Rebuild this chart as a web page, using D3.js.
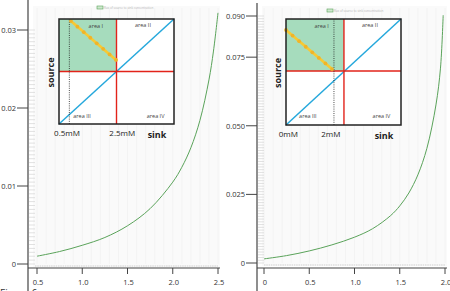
<!DOCTYPE html>
<html>
<head>
<meta charset="utf-8">
<script src="https://cdn.jsdelivr.net/npm/d3@7"></script>
<style>
  html, body { margin: 0; padding: 0; background: #fff; }
  svg { display: block; font-family: "Open Sans", "Liberation Sans", sans-serif; }
</style>
</head>
<body>
<div class="chart"></div>
<script>
// curve data
const leftSink = [0.5, 0.75, 1.0, 1.25, 1.5, 1.75, 2.0, 2.1, 2.2, 2.3, 2.4, 2.45, 2.5]
const leftFlux = [0.0010, 0.0016, 0.0024, 0.0034, 0.0049, 0.0071, 0.0105, 0.0124, 0.0149, 0.0184, 0.0236, 0.0273, 0.0322]
const rightSink = [0, 0.25, 0.5, 0.75, 1.0, 1.2, 1.4, 1.5, 1.6, 1.7, 1.8, 1.9, 1.95, 1.98]
const rightFlux = [0.0015, 0.0027, 0.0044, 0.0066, 0.0094, 0.0125, 0.0173, 0.0208, 0.0255, 0.0321, 0.0418, 0.0576, 0.0710, 0.0903]
// tick labels
const leftXTicks = [0.5, 1.0, 1.5, 2.0, 2.5]
const leftYTicks = [0, 0.01, 0.02, 0.03]
const rightXTicks = [0, 0.5, 1.0, 1.5, 2.0]
const rightYTicks = [0, 0.025, 0.050, 0.075, 0.090]
// inset schematic (unit square coords)
const areaNames = ["area I", "area II", "area III", "area IV"]
const leftInset = { cross: [0.5, 0.5], dotted: 0.09, yellow: [[0.104, 0.98], [0.496, 0.61]], marks: ["0.5mM", "2.5mM"], markAt: [0.07, 0.55] }
const rightInset = { cross: [0.504, 0.51], dotted: 0.417, yellow: [[0, 0.896], [0.40, 0.528]], marks: ["0mM", "2mM"], markAt: [0.02, 0.39] }

let width = 450, height = 291
let svg = d3.select(".chart").append("svg").attr("width", width).attr("height", height)

function drawPanel(p) {
    let x = d3.scaleLinear().domain(p.xDomain).range(p.xRange)
    let y = d3.scaleLinear().domain(p.yDomain).range(p.yRange)
    let g = svg.append("g")
    // faint plot background
    g.append("rect").attr("x", p.axisX + 5).attr("y", 6).attr("width", p.xRange[1] + 2 - p.axisX - 5)
        .attr("height", p.yRange[0] + 3 - 6).attr("fill", "#fafafa")
    g.append("g").selectAll("line").data(x.ticks(20)).enter().append("line")
        .attr("x1", d => x(d)).attr("x2", d => x(d)).attr("y1", 8).attr("y2", p.yRange[0])
        .attr("stroke", "#f1f1f1").attr("stroke-width", 0.8)
    // minor hatch along the y axis
    g.append("g").selectAll("line").data(y.ticks(p.hatch)).enter().append("line")
        .attr("x1", p.axisX + 1).attr("x2", p.axisX + 7).attr("y1", d => y(d)).attr("y2", d => y(d))
        .attr("stroke", "#d4d4d4").attr("stroke-width", 0.7)
    g.append("line").attr("x1", p.axisX + 7).attr("x2", p.xRange[1]).attr("y1", p.yRange[0] + 2).attr("y2", p.yRange[0] + 2)
        .attr("stroke", "#cfcfcf").attr("stroke-width", 1.2).attr("stroke-dasharray", "1.5,0.8")
    // curve
    let line = d3.line().x(d => x(d[0])).y(d => y(d[1])).curve(d3.curveCatmullRom.alpha(0.5))
    g.append("path").datum(d3.zip(p.sink, p.flux)).attr("d", line)
        .attr("fill", "none").attr("stroke", "#5aa35a").attr("stroke-width", 1)
    // axes
    g.append("line").attr("x1", p.axisX).attr("x2", p.axisX).attr("y1", p.axisTop).attr("y2", height)
        .attr("stroke", "#444").attr("stroke-width", 1.2)
    g.append("line").attr("x1", p.axisX).attr("x2", p.xRange[1] + 2).attr("y1", 268).attr("y2", 268)
        .attr("stroke", "#444").attr("stroke-width", 1.2)
    let yt = g.append("g").selectAll("g").data(p.yTicks).enter().append("g")
    yt.append("line").attr("x1", p.axisX - 11).attr("x2", p.axisX).attr("y1", d => y(d)).attr("y2", d => y(d))
        .attr("stroke", "#444").attr("stroke-width", 1)
    yt.append("text").attr("x", p.axisX - 12).attr("y", d => y(d) + 3).attr("text-anchor", "end")
        .attr("font-size", 7.5).attr("fill", "#333").text(d => d === 0 ? "0" : d3.format(p.yFormat)(d))
    let xt = g.append("g").selectAll("g").data(p.xTicks).enter().append("g")
    xt.append("line").attr("x1", d => x(d)).attr("x2", d => x(d)).attr("y1", 268).attr("y2", 274)
        .attr("stroke", "#444").attr("stroke-width", 1)
    xt.append("text").attr("x", d => x(d) + 1).attr("y", 285).attr("text-anchor", "middle")
        .attr("font-size", 7.5).attr("fill", "#333").text(d => p.xFormat(d))
    // legend
    g.append("rect").attr("x", p.legend[0]).attr("y", p.legend[1]).attr("width", 6).attr("height", 3)
        .attr("fill", "#cfe8cf").attr("stroke", "#5aa35a").attr("stroke-width", 0.6)
    g.append("text").attr("x", p.legend[0] + 7).attr("y", p.legend[1] + 2.8).attr("font-size", 3)
        .attr("fill", "#b5b5b5").text("flux of source to sink concentration")
    drawInset(p.box, p.inset, p.labelPos)
}

function drawInset(b, d, lp) {
    let u = d3.scaleLinear().domain([0, 1]).range([b[0], b[1]])
    let v = d3.scaleLinear().domain([0, 1]).range([b[3], b[2]])
    let g = svg.append("g")
    g.append("rect").attr("x", b[0]).attr("y", b[2]).attr("width", b[1] - b[0]).attr("height", b[3] - b[2]).attr("fill", "#fff")
    g.append("rect").attr("x", u(0)).attr("y", v(1)).attr("width", u(d.cross[0]) - u(0)).attr("height", v(d.cross[1]) - v(1))
        .attr("fill", "#a6dcbd")
    g.append("line").attr("x1", u(0)).attr("y1", v(0)).attr("x2", u(1)).attr("y2", v(1))
        .attr("stroke", "#25a8dc").attr("stroke-width", 1.5)
    g.append("line").attr("x1", u(d.cross[0])).attr("x2", u(d.cross[0])).attr("y1", v(0)).attr("y2", v(1))
        .attr("stroke", "#e2231a").attr("stroke-width", 1.4)
    g.append("line").attr("x1", u(0)).attr("x2", u(1)).attr("y1", v(d.cross[1])).attr("y2", v(d.cross[1]))
        .attr("stroke", "#e2231a").attr("stroke-width", 1.4)
    g.append("line").attr("x1", u(d.dotted)).attr("x2", u(d.dotted)).attr("y1", v(0)).attr("y2", v(1))
        .attr("stroke", "#222").attr("stroke-width", 0.8).attr("stroke-dasharray", "1,1.2")
    let y0 = d.yellow[0], y1 = d.yellow[1]
    g.append("line").attr("x1", u(y0[0])).attr("y1", v(y0[1])).attr("x2", u(y1[0])).attr("y2", v(y1[1]))
        .attr("stroke", "#f7c934").attr("stroke-width", 2.6)
    g.append("g").selectAll("circle").data(d3.range(0, 1.001, 1 / 7)).enter().append("circle")
        .attr("cx", t => u(y0[0] + (y1[0] - y0[0]) * t)).attr("cy", t => v(y0[1] + (y1[1] - y0[1]) * t))
        .attr("r", 1.9).attr("fill", "#f0b429")
    g.append("rect").attr("x", b[0]).attr("y", b[2]).attr("width", b[1] - b[0]).attr("height", b[3] - b[2])
        .attr("fill", "none").attr("stroke", "#222").attr("stroke-width", 1.5)
    g.append("g").selectAll("text").data(areaNames).enter().append("text")
        .attr("x", (t, i) => u(lp[i][0])).attr("y", (t, i) => v(lp[i][1]) + 2).attr("text-anchor", "middle")
        .attr("font-size", 5.5).attr("fill", "#444").text(t => t)
    g.append("text").attr("transform", `translate(${b[0] - 5},${(b[2] + b[3]) / 2 + 1}) rotate(-90)`)
        .attr("text-anchor", "middle").attr("font-size", 9).attr("font-weight", "bold").attr("fill", "#222").text("source")
    g.append("text").attr("x", u(1) - 17).attr("y", b[3] + 14).attr("text-anchor", "middle")
        .attr("font-size", 9).attr("font-weight", "bold").attr("fill", "#222").text("sink")
    g.append("g").selectAll("text").data(d.marks).enter().append("text")
        .attr("x", (t, i) => u(d.markAt[i])).attr("y", b[3] + 12).attr("text-anchor", "middle")
        .attr("font-size", 8).attr("fill", "#222").text(t => t)
}

drawPanel({
    sink: leftSink, flux: leftFlux, xTicks: leftXTicks, yTicks: leftYTicks,
    xDomain: [0.5, 2.5], xRange: [37, 218], yDomain: [0, 0.03], yRange: [264, 30],
    axisX: 28, axisTop: 0, hatch: 80, yFormat: ".2f", xFormat: d3.format(".1f"),
    legend: [97, 6], box: [59, 174, 19, 124], inset: leftInset,
    labelPos: [[0.32, 0.93], [0.73, 0.94], [0.2, 0.076], [0.84, 0.076]]
})
drawPanel({
    sink: rightSink, flux: rightFlux, xTicks: rightXTicks, yTicks: rightYTicks,
    xDomain: [0, 2], xRange: [264, 445], yDomain: [0, 0.09], yRange: [263, 16],
    axisX: 257, axisTop: 3, hatch: 90, yFormat: ".3f", xFormat: d => d === 0 ? "0" : d3.format(".1f")(d),
    legend: [327, 9], box: [286, 401, 19, 125], inset: rightInset,
    labelPos: [[0.31, 0.93], [0.73, 0.94], [0.19, 0.085], [0.83, 0.085]]
})

svg.append("text").attr("x", 0).attr("y", 297).attr("font-size", 10).attr("fill", "#333").text("Figure 6")
</script>
</body>
</html>
